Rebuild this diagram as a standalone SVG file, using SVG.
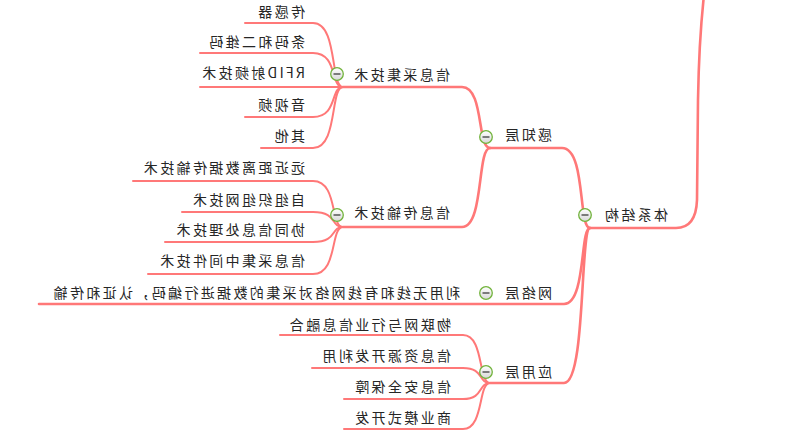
<svg xmlns="http://www.w3.org/2000/svg" width="800" height="437" viewBox="0 0 800 437">
<defs>
<linearGradient id="cg" x1="0" y1="0" x2="0" y2="1">
<stop offset="0" stop-color="#ffffff"/>
<stop offset="1" stop-color="#d8d8d8"/>
</linearGradient>
<g id="col">
<circle r="6.3" fill="url(#cg)" stroke="#72b33c" stroke-width="1.3"/>
<line x1="-3.5" y1="0" x2="3.5" y2="0" stroke="#555" stroke-width="1.5"/>
</g>
</defs>
<style>
text{font-family:"Noto Sans CJK SC","Liberation Sans",sans-serif;font-size:14px;letter-spacing:2.35px;fill:#262626}
.c path{fill:none;stroke:#ff7878;stroke-linecap:round}
.c .m{stroke-width:2.6}
.c .l{stroke-width:2}
</style>
<rect width="800" height="437" fill="#ffffff"/>
<g transform="matrix(-1 0 0 1 800 0)">
<g class="c" id="connectors">
<path class="m" d="M210,228 H124 Q104,228 103,200 L102,100 Q101,40 96,-5"/>
<path class="m" d="M210,228 C222,228 214,148 238,148 H310"/>
<path class="m" d="M210,228 C220,228 214,304 236,304 H761"/>
<path class="m" d="M210,228 C220,228 214,383 236,383 H310"/>
<path class="m" d="M310,148 C323,148 316,87 338,87 H457"/>
<path class="m" d="M310,148 C323,148 316,227 338,227 H457"/>
<path class="l" d="M457,87 C470,87 462,23 487,23 H555"/>
<path class="l" d="M457,87 C470,87 462,53 487,53 H600"/>
<path class="l" d="M457,87 H600"/>
<path class="l" d="M457,87 C470,87 462,117 487,117 H555"/>
<path class="l" d="M457,87 C470,87 462,148 487,148 H539"/>
<path class="l" d="M457,227 C470,227 462,181 487,181 H667"/>
<path class="l" d="M457,227 C470,227 462,212 487,212 H618"/>
<path class="l" d="M457,227 C470,227 462,242 487,242 H635"/>
<path class="l" d="M457,227 C470,227 462,274 487,274 H652"/>
<path class="l" d="M310,383 C322,383 316,335 337,335 H520"/>
<path class="l" d="M310,383 C322,383 316,368 337,368 H488"/>
<path class="l" d="M310,383 C322,383 316,399 337,399 H456"/>
<path class="l" d="M310,383 C322,383 316,429 337,429 H456"/>
</g>
<g id="n-tixi"><text x="132" y="220">体系结构</text><use href="#col" x="215" y="215"/></g>
<g id="n-ganzhi"><text x="248" y="140">感知层</text><use href="#col" x="314" y="137"/></g>
<g id="n-wangluo"><text x="248" y="298">网络层</text><use href="#col" x="314" y="293"/></g>
<g id="n-wangluo-1"><text x="340" y="298">利用无线和有线网络对采集的数据进行编码，认证和传输</text></g>
<g id="n-yingyong"><text x="248" y="377">应用层</text><use href="#col" x="314" y="372"/></g>
<g id="n-caiji"><text x="350" y="80">信息采集技术</text><use href="#col" x="463" y="74"/></g>
<g id="n-chuanshu"><text x="350" y="218">信息传输技术</text><use href="#col" x="463" y="215"/></g>
<g id="n-c1"><text x="495" y="17">传感器</text></g>
<g id="n-c2"><text x="495" y="47">条码和二维码</text></g>
<g id="n-c3"><text x="495" y="78">RFID射频技术</text></g>
<g id="n-c4"><text x="495" y="110">音视频</text></g>
<g id="n-c5"><text x="495" y="141">其他</text></g>
<g id="n-t1"><text x="495" y="173">远近距离数据传输技术</text></g>
<g id="n-t2"><text x="495" y="205">自组织组网技术</text></g>
<g id="n-t3"><text x="495" y="235">协同信息处理技术</text></g>
<g id="n-t4"><text x="495" y="266">信息采集中间件技术</text></g>
<g id="n-y1"><text x="349" y="330">物联网与行业信息融合</text></g>
<g id="n-y2"><text x="349" y="361">信息资源开发利用</text></g>
<g id="n-y3"><text x="349" y="392">信息安全保障</text></g>
<g id="n-y4"><text x="349" y="423">商业模式开发</text></g>
</g>
</svg>
